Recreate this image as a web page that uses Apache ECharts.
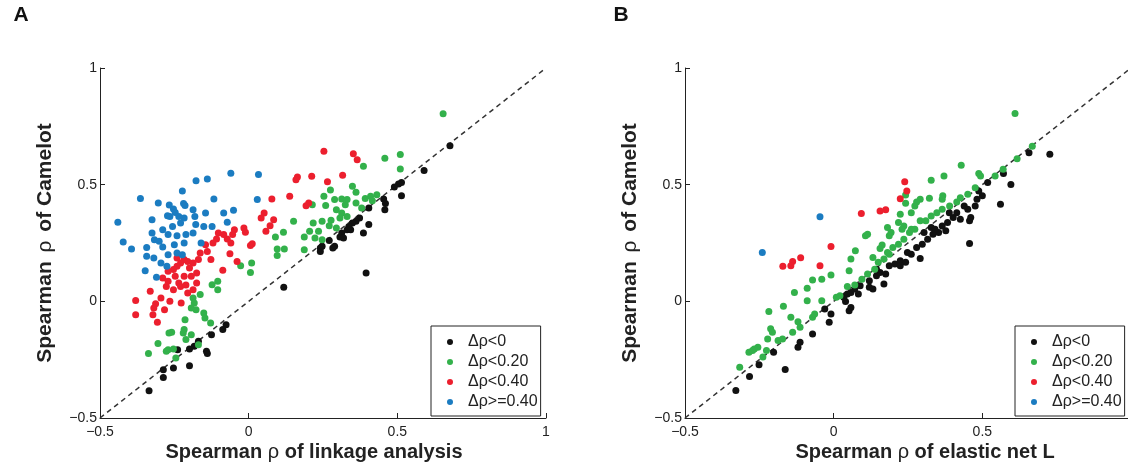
<!DOCTYPE html>
<html><head><meta charset="utf-8">
<script src="https://cdn.jsdelivr.net/npm/echarts@6/dist/echarts.min.js"></script>
<style>html,body{margin:0;padding:0;background:#fff}#c{width:1128px;height:467px}</style>
</head><body><div id="c"></div>
<script>
// ---------- data ----------
const seriesNames = ['\u0394\u03c1<0', '\u0394\u03c1<0.20', '\u0394\u03c1<0.40', '\u0394\u03c1>=0.40'];
const tickValues = [-0.5, 0, 0.5, 1];
const tickLabels = ['\u22120.5', '0', '0.5', '1'];
const diagonal = [-0.5, 1];

// Panel A: Camelot vs linkage analysis
const aBlack = [[0.677,0.667],[0.590,0.561],[0.514,0.509],[0.504,0.503],[0.514,0.453],[0.454,0.439],[0.460,0.419],[0.458,0.393],[0.404,0.400],[0.404,0.329],[0.386,0.293],[0.395,0.121],[0.373,0.357],[0.361,0.343],[0.349,0.336],[0.337,0.321],[0.331,0.307],[0.313,0.293],[0.307,0.276],[0.271,0.261],[0.289,0.236],[0.283,0.229],[0.241,0.229],[0.241,0.214],[0.247,0.236],[0.319,0.271],[0.343,0.307],[0.118,0.060],[-0.076,-0.100],[-0.087,-0.121],[-0.125,-0.143],[-0.142,-0.214],[-0.139,-0.224],[-0.169,-0.171],[-0.183,-0.193],[-0.199,-0.204],[-0.239,-0.207],[-0.199,-0.276],[-0.253,-0.286],[-0.287,-0.293],[-0.287,-0.326],[-0.335,-0.383],[0.490,0.490]];
const aGreen = [[0.654,0.804],[0.510,0.629],[0.458,0.613],[0.510,0.567],[0.386,0.579],[0.349,0.493],[0.361,0.467],[0.275,0.477],[0.313,0.439],[0.289,0.436],[0.331,0.436],[0.253,0.450],[0.214,0.414],[0.259,0.411],[0.431,0.457],[0.410,0.450],[0.392,0.441],[0.416,0.431],[0.380,0.400],[0.361,0.421],[0.325,0.414],[0.295,0.393],[0.313,0.379],[0.331,0.364],[0.307,0.357],[0.277,0.347],[0.247,0.343],[0.217,0.336],[0.271,0.324],[0.295,0.314],[0.205,0.300],[0.235,0.300],[0.223,0.271],[0.187,0.276],[0.247,0.264],[0.187,0.221],[0.151,0.343],[0.117,0.296],[0.090,0.276],[0.096,0.224],[0.120,0.224],[0.096,0.196],[0.010,0.164],[-0.027,0.153],[0.006,0.124],[-0.104,0.086],[-0.123,0.071],[-0.104,0.050],[-0.163,0.029],[-0.187,0.014],[-0.183,-0.007],[-0.193,-0.029],[-0.177,-0.036],[-0.151,-0.050],[-0.147,-0.071],[-0.128,-0.093],[-0.214,-0.079],[-0.217,-0.121],[-0.220,-0.136],[-0.193,-0.143],[-0.211,-0.164],[-0.259,-0.133],[-0.268,-0.136],[-0.305,-0.181],[-0.337,-0.224],[-0.271,-0.207],[-0.253,-0.204],[-0.277,-0.214],[-0.245,-0.243],[-0.169,-0.186]];
const aRed = [[0.253,0.643],[0.352,0.633],[0.365,0.607],[0.316,0.540],[0.212,0.536],[0.164,0.533],[0.159,0.521],[0.265,0.513],[0.138,0.450],[0.078,0.439],[0.202,0.421],[0.193,0.410],[0.052,0.379],[0.042,0.357],[0.084,0.350],[0.072,0.324],[0.058,0.300],[-0.016,0.314],[-0.011,0.296],[0.012,0.247],[0.006,0.239],[-0.048,0.307],[-0.054,0.286],[-0.072,0.267],[-0.108,0.267],[-0.102,0.293],[-0.084,0.286],[-0.060,0.250],[-0.063,0.204],[-0.039,0.171],[-0.087,0.133],[-0.145,0.243],[-0.139,0.214],[-0.127,0.179],[-0.120,0.250],[-0.163,0.207],[-0.169,0.179],[-0.187,0.164],[-0.205,0.171],[-0.217,0.179],[-0.229,0.164],[-0.241,0.150],[-0.253,0.136],[-0.271,0.129],[-0.289,0.100],[-0.277,0.064],[-0.253,0.050],[-0.235,0.079],[-0.217,0.107],[-0.193,0.107],[-0.175,0.079],[-0.187,0.050],[-0.205,0.036],[-0.227,-0.007],[-0.265,0.000],[-0.295,0.014],[-0.313,-0.010],[-0.319,-0.029],[-0.322,-0.057],[-0.307,-0.090],[-0.331,0.043],[-0.380,0.004],[-0.380,-0.057],[-0.283,-0.036],[-0.241,0.186],[-0.199,0.143],[-0.175,0.121],[-0.247,0.107],[-0.271,0.086],[-0.229,0.064],[-0.211,0.070]];
const aBlue = [[-0.060,0.549],[0.033,0.544],[-0.139,0.524],[-0.177,0.517],[-0.223,0.473],[-0.364,0.441],[-0.117,0.439],[0.029,0.436],[-0.304,0.421],[-0.267,0.413],[-0.219,0.419],[-0.214,0.411],[-0.187,0.393],[-0.253,0.396],[-0.273,0.367],[-0.247,0.381],[-0.325,0.350],[-0.440,0.339],[-0.217,0.357],[-0.181,0.364],[-0.145,0.379],[-0.084,0.379],[-0.051,0.390],[-0.072,0.339],[-0.123,0.321],[-0.151,0.321],[-0.229,0.336],[-0.256,0.321],[-0.178,0.329],[-0.187,0.293],[-0.211,0.286],[-0.241,0.281],[-0.271,0.286],[-0.317,0.264],[-0.422,0.254],[-0.394,0.224],[-0.343,0.231],[-0.301,0.257],[-0.289,0.233],[-0.250,0.243],[-0.217,0.250],[-0.343,0.193],[-0.319,0.186],[-0.271,0.200],[-0.241,0.207],[-0.223,0.200],[-0.295,0.164],[-0.275,0.150],[-0.348,0.131],[-0.310,0.103],[-0.160,0.250],[-0.325,0.293],[-0.289,0.307],[-0.265,0.364],[-0.235,0.364]];

// Panel B: Camelot vs elastic net L
const bBlack = [[-0.329,-0.382],[-0.283,-0.322],[-0.251,-0.272],[-0.163,-0.292],[-0.202,-0.218],[-0.120,-0.197],[-0.113,-0.175],[-0.071,-0.140],[-0.015,-0.090],[-0.009,-0.054],[-0.030,-0.033],[0.052,-0.040],[0.058,-0.026],[0.040,-0.001],[0.034,0.017],[0.046,0.031],[0.058,0.038],[0.071,0.053],[0.083,0.031],[0.089,0.067],[0.120,0.060],[0.132,0.053],[0.120,0.088],[0.144,0.110],[0.156,0.124],[0.169,0.074],[0.175,0.117],[0.187,0.152],[0.206,0.160],[0.224,0.174],[0.242,0.167],[0.261,0.202],[0.291,0.184],[0.279,0.231],[0.298,0.245],[0.316,0.266],[0.334,0.288],[0.353,0.295],[0.377,0.302],[0.365,0.323],[0.383,0.338],[0.402,0.359],[0.414,0.380],[0.426,0.352],[0.457,0.345],[0.461,0.359],[0.457,0.248],[0.451,0.395],[0.476,0.409],[0.482,0.437],[0.500,0.452],[0.488,0.473],[0.518,0.509],[0.561,0.416],[0.571,0.548],[0.596,0.501],[0.657,0.637],[0.727,0.630],[0.304,0.295],[0.328,0.316],[0.341,0.309],[0.224,0.152],[0.144,0.138],[0.248,0.209],[0.389,0.380],[0.439,0.409]];
const bGreen = [[0.610,0.805],[0.668,0.665],[0.617,0.611],[0.570,0.566],[0.543,0.537],[0.488,0.548],[0.494,0.537],[0.429,0.583],[0.371,0.537],[0.328,0.519],[0.367,0.452],[0.365,0.437],[0.322,0.442],[0.291,0.437],[0.279,0.426],[0.242,0.456],[0.242,0.420],[0.224,0.373],[0.218,0.338],[0.236,0.323],[0.181,0.316],[0.187,0.281],[0.156,0.226],[0.132,0.188],[0.107,0.281],[0.114,0.288],[0.073,0.217],[0.058,0.181],[0.052,0.131],[-0.009,0.113],[-0.040,0.095],[-0.071,0.091],[-0.089,0.056],[-0.132,0.038],[-0.089,0.003],[-0.169,-0.021],[-0.218,-0.044],[-0.144,-0.068],[-0.120,-0.087],[-0.212,-0.118],[-0.206,-0.132],[-0.222,-0.161],[-0.255,-0.197],[-0.267,-0.204],[-0.285,-0.218],[-0.273,-0.211],[-0.226,-0.211],[-0.238,-0.239],[-0.316,-0.282],[-0.187,-0.168],[-0.172,-0.161],[-0.138,-0.132],[-0.113,-0.111],[-0.071,-0.068],[-0.064,-0.054],[-0.040,0.003],[0.009,0.017],[0.021,0.024],[0.046,0.064],[0.071,0.070],[0.095,0.095],[0.114,0.117],[0.138,0.138],[0.150,0.167],[0.169,0.181],[0.187,0.202],[0.199,0.231],[0.218,0.245],[0.236,0.266],[0.255,0.295],[0.273,0.309],[0.291,0.345],[0.310,0.345],[0.328,0.366],[0.347,0.380],[0.365,0.395],[0.390,0.409],[0.414,0.426],[0.426,0.444],[0.451,0.459],[0.476,0.487],[0.230,0.309],[0.261,0.309],[0.193,0.295],[0.261,0.380],[0.273,0.409],[0.163,0.241],[0.181,0.209]];
const bRed = [[0.239,0.513],[0.246,0.473],[0.224,0.440],[0.175,0.392],[0.156,0.387],[0.093,0.376],[-0.009,0.235],[-0.111,0.187],[-0.138,0.171],[-0.144,0.152],[-0.171,0.150],[-0.046,0.152]];
const bBlue = [[-0.046,0.362],[-0.240,0.209]];

// ---------- styling ----------
const colors = ['#111111', '#33b14b', '#ec1f2e', '#1b7cc1'];
const FONT = '"Liberation Sans", Arial, Helvetica, sans-serif';
const chart = echarts.init(document.getElementById('c'), null, {renderer: 'canvas'});

function fmt(v) {
  for (let i = 0; i < tickValues.length; i++) if (Math.abs(v - tickValues[i]) < 1e-9) return tickLabels[i];
  return '';
}
function xAxis(gi) {
  return {gridIndex: gi, type: 'value', min: tickValues[0], max: tickValues[tickValues.length - 1], interval: 0.5,
    axisLine: {onZero: false, lineStyle: {color: '#222', width: 1}},
    axisTick: {inside: true, length: 5, lineStyle: {color: '#222'}},
    splitLine: {show: false},
    axisLabel: {formatter: fmt, color: '#222', fontSize: 14, fontFamily: FONT, margin: 7, showMinLabel: true, showMaxLabel: true}};
}
function yAxis(gi) {
  return {gridIndex: gi, type: 'value', min: tickValues[0], max: tickValues[tickValues.length - 1], interval: 0.5,
    axisLine: {onZero: false, lineStyle: {color: '#222', width: 1}},
    axisTick: {inside: true, length: 5, lineStyle: {color: '#222'}},
    splitLine: {show: false},
    axisLabel: {formatter: fmt, color: '#222', fontSize: 14, fontFamily: FONT, margin: 3, showMinLabel: true, showMaxLabel: true},
    name: 'Spearman {r|\u03c1} of Camelot', nameLocation: 'middle', nameGap: 44,
    nameTextStyle: {fontSize: 21, fontWeight: 'bold', color: '#222', fontFamily: FONT,
      rich: {r: {fontSize: 21, fontWeight: 'normal', color: '#222', fontFamily: FONT, padding: [0, 3, 0, 3]}}}};
}
const panels = [[aBlack, aGreen, aRed, aBlue], [bBlack, bGreen, bRed, bBlue]];
const series = [];
panels.forEach((sets, gi) => {
  series.push({type: 'line', xAxisIndex: gi, yAxisIndex: gi, data: [[diagonal[0], diagonal[0]], [diagonal[1], diagonal[1]]],
    showSymbol: false, symbol: 'none', silent: true, z: 1,
    lineStyle: {color: '#333', width: 1.5, type: [5, 4]}});
  sets.forEach((d, k) => {
    series.push({type: 'scatter', name: seriesNames[k], xAxisIndex: gi, yAxisIndex: gi, data: d,
      symbol: 'circle', symbolSize: 7, itemStyle: {color: colors[k], opacity: 1}, z: 2 + k});
  });
});
function legend(left) {
  return {data: seriesNames, orient: 'vertical', left: left, top: 326, itemGap: 4,
    itemWidth: 6, itemHeight: 6, icon: 'circle', padding: [8, 3, 6, 16],
    borderColor: '#222', borderWidth: 1, backgroundColor: '#fff', selectedMode: false,
    textStyle: {fontSize: 16, color: '#222', fontFamily: FONT, padding: [0, 0, 0, 10]}};
}
function xTitle(x, txt) {
  return {type: 'text', x: x, y: 452, style: {text: 'Spearman {r|\u03c1} of ' + txt, align: 'center', verticalAlign: 'middle',
    font: 'bold 20px ' + FONT, fill: '#222',
    rich: {r: {font: 'normal 20px ' + FONT, fill: '#222'}}}};
}
chart.setOption({
  animation: false,
  color: colors,
  grid: [{left: 100, top: 68, width: 446, height: 350, outerBoundsMode: 'none', containLabel: false},
         {left: 685, top: 68, width: 446, height: 350, outerBoundsMode: 'none', containLabel: false}],
  xAxis: [xAxis(0), xAxis(1)],
  yAxis: [yAxis(0), yAxis(1)],
  legend: [legend(431), legend(1015)],
  series: series,
  graphic: [
    {type: 'text', x: 21, y: 15, style: {text: 'A', align: 'center', verticalAlign: 'middle', font: 'bold 21px ' + FONT, fill: '#111'}},
    {type: 'text', x: 621, y: 15, style: {text: 'B', align: 'center', verticalAlign: 'middle', font: 'bold 21px ' + FONT, fill: '#111'}},
    xTitle(314, 'linkage analysis'),
    xTitle(925, 'elastic net L')
  ]
});
</script></body></html>
